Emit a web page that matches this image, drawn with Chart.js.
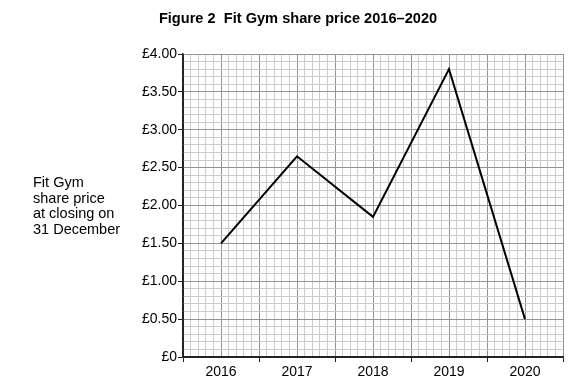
<!DOCTYPE html>
<html>
<head>
<meta charset="utf-8">
<script src="https://cdn.jsdelivr.net/npm/chart.js@4/dist/chart.umd.min.js"></script>
<style>
  body { margin: 0; background: #fff; }
  #wrap { position: relative; width: 574px; height: 382px; font-family: "Liberation Sans", Arial, sans-serif; color: #000; }
  #title { position: absolute; left: 0; width: 596px; top: 10px; text-align: center; font-weight: bold; font-size: 14.6px; }
  #side { position: absolute; left: 33px; top: 175px; font-size: 14.5px; line-height: 15.5px; }
</style>
</head>
<body>
<div id="wrap">
  <canvas id="chart" width="574" height="382"></canvas>
  <div id="title">Figure 2&nbsp; Fit Gym share price 2016–2020</div>
  <div id="side">Fit Gym<br>share price<br>at closing on<br>31 December</div>
</div>
<script>
var years = ['2016', '2017', '2018', '2019', '2020'];
var prices = [1.50, 2.65, 1.85, 3.80, 0.50];

var axisColor = '#222';
var majorColor = '#929292';
var minorColor = '#cbcbcb';

// tick values are in tenths, majors every 0.5
function tenths(v) { return Math.round(v * 10); }
function isMajor(v) { return tenths(v) % 5 === 0; }

var points = years.map(function (y, i) { return { x: i, y: prices[i] }; });

new Chart(document.getElementById('chart'), {
  type: 'line',
  data: {
    datasets: [{
      data: points,
      borderColor: '#000',
      borderWidth: 2,
      pointRadius: 0,
      tension: 0,
      fill: false
    }]
  },
  options: {
    responsive: false,
    animation: false,
    layout: { padding: { top: 54, right: 11, bottom: 0, left: 0 } },
    plugins: { legend: { display: false }, tooltip: { enabled: false } },
    scales: {
      x: {
        type: 'linear',
        min: -0.5,
        max: years.length - 0.5,
        afterFit: function (scale) { scale.height = 25; },
        ticks: {
          stepSize: 0.1,
          autoSkip: false,
          maxRotation: 0,
          minRotation: 0,
          padding: 2,
          color: '#000',
          font: { family: 'Liberation Sans', size: 14 },
          callback: function (v) {
            var t = tenths(v);
            return t % 10 === 0 ? years[t / 10] : '';
          }
        },
        grid: {
          tickLength: 5,
          color: function (ctx) {
            var v = ctx.tick.value;
            if (tenths(v) === -5) return axisColor;
            return isMajor(v) ? majorColor : minorColor;
          },
          tickColor: function (ctx) {
            var t = tenths(ctx.tick.value);
            return Math.abs(t % 10) === 5 ? axisColor : 'rgba(0,0,0,0)';
          }
        },
        border: { color: axisColor, width: 1.5 }
      },
      y: {
        min: 0,
        max: 4,
        afterFit: function (scale) { scale.width = 183; },
        ticks: {
          stepSize: 0.1,
          autoSkip: false,
          padding: 1,
          color: '#000',
          font: { family: 'Liberation Sans', size: 14 },
          callback: function (v) {
            if (!isMajor(v)) return '';
            return v === 0 ? '£0' : '£' + v.toFixed(2);
          }
        },
        grid: {
          tickLength: 5,
          color: function (ctx) {
            var v = ctx.tick.value;
            if (tenths(v) === 0) return axisColor;
            return isMajor(v) ? majorColor : minorColor;
          },
          tickColor: function (ctx) {
            return isMajor(ctx.tick.value) ? axisColor : 'rgba(0,0,0,0)';
          }
        },
        border: { color: axisColor, width: 1.5 }
      }
    }
  }
});
</script>
</body>
</html>
